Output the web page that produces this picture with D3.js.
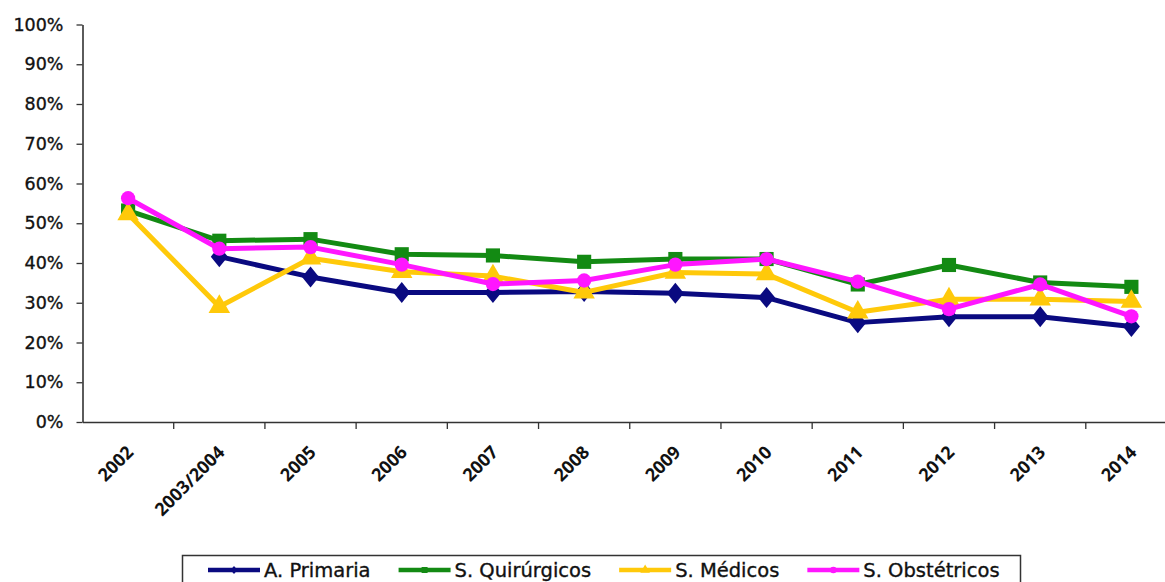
<!DOCTYPE html>
<html><head><meta charset="utf-8">
<script src="https://cdn.jsdelivr.net/npm/d3@7"></script>
<style>body{margin:0;background:#fff}svg{display:block}</style>
</head><body>
<script>
const categories = ["2002","2003/2004","2005","2006","2007","2008","2009","2010","2011","2012","2013","2014"];
const aPrimaria    = [null, 41.6, 36.5, 32.6, 32.6, 32.8, 32.4, 31.3, 25.0, 26.5, 26.5, 24.0];
const sQuirurgicos = [53.2, 45.6, 46.0, 42.2, 41.9, 40.3, 41.0, 41.0, 34.6, 39.5, 35.1, 34.0];
const sMedicos     = [52.3, 29.0, 41.2, 37.8, 36.7, 32.6, 37.6, 37.2, 27.6, 30.9, 30.9, 30.3];
const sObstetricos = [56.3, 43.6, 44.0, 39.6, 34.7, 35.6, 39.6, 41.0, 35.3, 28.4, 34.6, 26.6];
const yTicks = [0,10,20,30,40,50,60,70,80,90,100];

const series = [
  {name:"A. Primaria", values:aPrimaria, color:"#0a0a80", shape:"diamond"},
  {name:"S. Quirúrgicos", values:sQuirurgicos, color:"#138a13", shape:"square"},
  {name:"S. Médicos", values:sMedicos, color:"#ffc90a", shape:"triangle"},
  {name:"S. Obstétricos", values:sObstetricos, color:"#ff16ff", shape:"circle"}
];

const W=1165,H=582;
const svg=d3.select("body").append("svg").attr("width",W).attr("height",H);
svg.append("rect").attr("width",W).attr("height",H).attr("fill","#fff");

const x=d3.scaleBand().domain(categories).range([82.5,1177]);
const y=d3.scaleLinear().domain([0,100]).range([422,24.5]);

const axisColor="#333";
const geoFont="'DejaVu Sans', Verdana, sans-serif";
// y axis
const ya=svg.append("g").attr("transform","translate(82.5,0)")
  .call(d3.axisLeft(y).tickValues(yTicks).tickFormat(d=>d+"%").tickSize(6).tickSizeOuter(0));
ya.select(".domain").attr("stroke",axisColor).attr("stroke-width",1.6);
ya.selectAll(".tick line").attr("stroke",axisColor).attr("stroke-width",1.3);
ya.selectAll("text").attr("font-family",geoFont).attr("font-size",17.5)
  .attr("fill","#111").attr("stroke","#111").attr("stroke-width",0.35).attr("x",-19);

// x axis
const xa=svg.append("g").attr("transform","translate(0,422)")
  .call(d3.axisBottom(x).tickSize(0).tickSizeOuter(0));
xa.select(".domain").attr("stroke",axisColor).attr("stroke-width",1.6);
xa.selectAll(".tick text").remove();
xa.selectAll(".bt").data(categories).enter().append("line")
  .attr("class","bt")
  .attr("x1",(d,i)=>x.range()[0]+x.step()*(i+1)).attr("x2",(d,i)=>x.range()[0]+x.step()*(i+1))
  .attr("y1",0).attr("y2",7).attr("stroke",axisColor).attr("stroke-width",1.3);
xa.selectAll(".lbl").data(categories).enter().append("text").attr("class","lbl")
  .attr("transform",d=>`translate(${x(d)+x.bandwidth()/2+2},${27}) rotate(-45)`)
  .attr("text-anchor","end").attr("dy","0.35em")
  .attr("font-family","'Open Sans', 'Liberation Sans', sans-serif").attr("font-size",18)
  .attr("font-weight","700").attr("fill","#111").text(d=>d);

const cx=d=>x(d)+x.bandwidth()/2;
const line=d3.line().defined(d=>d.v!=null).x(d=>cx(d.c)).y(d=>y(d.v));

const shapes={
  diamond:"M0,-10.5L8.5,0L0,10.5L-8.5,0Z",
  square:d3.symbol().type(d3.symbolSquare).size(200)(),
  triangle:d3.symbol().type(d3.symbolTriangle).size(200)(),
  circle:d3.symbol().type(d3.symbolCircle).size(160)()
};

series.forEach(s=>{
  const pts=categories.map((c,i)=>({c,v:s.values[i]}));
  const g=svg.append("g");
  g.append("path").datum(pts).attr("d",line).attr("fill","none")
    .attr("stroke",s.color).attr("stroke-width",5).attr("stroke-linejoin","round");
  g.selectAll("path.m").data(pts.filter(p=>p.v!=null)).enter().append("path").attr("class","m")
    .attr("d",shapes[s.shape]).attr("fill",s.color)
    .attr("transform",p=>`translate(${cx(p.c)},${y(p.v)})`);
});

// legend
const lg=svg.append("g");
lg.append("rect").attr("x",182.5).attr("y",555.5).attr("width",838).attr("height",40)
  .attr("fill","#fff").attr("stroke","#333").attr("stroke-width",1.5);
const smallShapes={
  diamond:"M0,-4L3.5,0L0,4L-3.5,0Z",
  square:d3.symbol().type(d3.symbolSquare).size(36)(),
  triangle:d3.symbol().type(d3.symbolTriangle).size(40)(),
  circle:d3.symbol().type(d3.symbolCircle).size(34)()
};
let lx=208;
series.forEach((s,i)=>{
  const g=lg.append("g").attr("transform",`translate(${lx},570)`);
  g.append("line").attr("x1",0).attr("x2",52).attr("y1",0).attr("y2",0)
    .attr("stroke",s.color).attr("stroke-width",4.5);
  g.append("path").attr("d",smallShapes[s.shape]).attr("fill",s.color).attr("transform","translate(26,0)");
  const t=g.append("text").attr("x",56).attr("y",0).attr("dy","0.36em")
    .attr("font-family",geoFont).attr("font-size",19.5)
    .attr("fill","#111").attr("stroke","#111").attr("stroke-width",0.35).text(s.name);
  lx += 56 + t.node().getComputedTextLength() + 28;
});
</script>
</body></html>
